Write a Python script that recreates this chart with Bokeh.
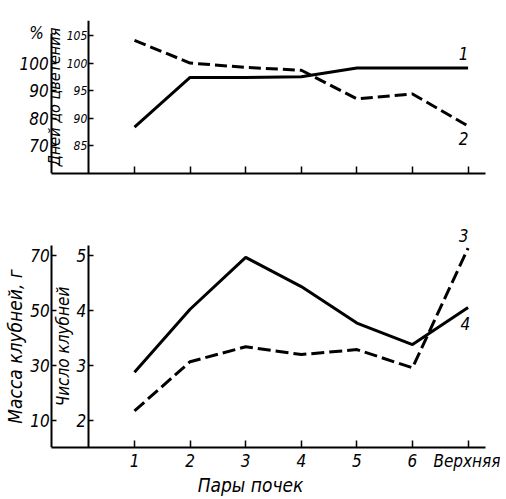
from bokeh.plotting import figure
from bokeh.models import LinearAxis, Range1d, FixedTicker, Label
from bokeh.layouts import column
from bokeh.embed import file_html
from bokeh.resources import INLINE

# ---- data ----
pairs = [1, 2, 3, 4, 5, 6, 7]
pair_labels = ["1", "2", "3", "4", "5", "6", "Верхняя"]
pct_line1 = [76.8, 94.8, 94.8, 95.0, 98.2, 98.2, 98.2]        # curve 1, %
days_line2 = [104.1, 100.0, 99.2, 98.7, 93.5, 94.4, 88.6]     # curve 2, days to flowering
mass_line3 = [13.6, 31.4, 36.8, 34.0, 35.8, 29.2, 72.5]       # curve 3, tuber mass, g
count_line4 = [2.88, 4.02, 4.96, 4.43, 3.77, 3.38, 4.05]      # curve 4, number of tubers

pct_ticks = [70, 80, 90, 100]
day_ticks = [85, 90, 95, 100, 105]
mass_ticks = [10, 30, 50, 70]
count_ticks = [2, 3, 4, 5]

FONT = "DejaVu Sans Condensed"
FS = "17px"
X_RANGE = (-1.410, 7.583)
OUTER_X = -0.49
INNER_X = 0.17


def style_x(ax, labels):
    ax.ticker = FixedTicker(ticks=pairs)
    ax.major_label_overrides = {p: l for p, l in zip(pairs, labels)}
    ax.bounds = (OUTER_X, 7.31)
    ax.axis_line_width = 2
    ax.major_tick_in = 7
    ax.major_tick_out = 0
    ax.major_tick_line_width = 1.5
    ax.minor_tick_line_color = None
    ax.major_label_text_font = FONT
    ax.major_label_text_font_style = "italic"
    ax.major_label_text_font_size = FS
    ax.major_label_text_color = "black"
    ax.axis_label_text_font = FONT
    ax.axis_label_text_font_style = "italic"
    ax.axis_label_text_font_size = "19px"
    ax.axis_label_text_color = "black"
    ax.major_label_standoff = 3
    ax.axis_label_standoff = 0


def make_y(range_name, loc, ticks, label, bounds=None, fs=FS, lfs=FS,
           standoff=2, label_standoff=1):
    ax = LinearAxis(y_range_name=range_name, fixed_location=loc,
                    ticker=FixedTicker(ticks=ticks))
    if label:
        ax.axis_label = label
    if bounds:
        ax.bounds = bounds
    ax.axis_line_width = 2
    ax.major_tick_in = 5
    ax.major_tick_out = 0
    ax.major_tick_line_width = 1.5
    ax.minor_tick_line_color = None
    ax.major_label_text_font = FONT
    ax.major_label_text_font_style = "italic"
    ax.major_label_text_font_size = fs
    ax.major_label_text_color = "black"
    ax.major_label_standoff = standoff
    ax.axis_label_text_font = FONT
    ax.axis_label_text_font_style = "italic"
    ax.axis_label_text_font_size = lfs
    ax.axis_label_text_color = "black"
    ax.axis_label_standoff = label_standoff
    return ax


def label(p, x, y, text, rng="default"):
    p.add_layout(Label(x=x, y=y, text=text, y_range_name=rng,
                       text_font=FONT, text_font_style="italic",
                       text_font_size=FS, text_color="black",
                       text_align="center", text_baseline="middle"))


# ---- top panel ----
top = figure(width=500, height=200, x_range=Range1d(*X_RANGE),
             y_range=Range1d(80.0, 107.7), y_axis_location=None,
             toolbar_location=None, output_backend="svg",
             min_border_left=0, min_border_right=0,
             min_border_top=20, min_border_bottom=27)
top.extra_y_ranges = {"pct": Range1d(60.0, 115.4)}
top.outline_line_color = None
top.xgrid.visible = False
top.ygrid.visible = False
style_x(top.xaxis[0], [""] * 7)

top.add_layout(make_y("default", INNER_X, day_ticks, "Дней до цветения",
                      fs="12px", lfs="16px", standoff=1, label_standoff=0), "left")
top.add_layout(make_y("pct", OUTER_X, pct_ticks, None, bounds=(60, 110.7),
                      standoff=3), "left")

top.line(pairs, pct_line1, y_range_name="pct", line_width=3, line_color="black")
top.line(pairs, days_line2, line_width=3, line_color="black", line_dash="12 5")
label(top, -0.76, 105.5, "%")
label(top, 6.92, 101.8, "1")
label(top, 6.92, 86.3, "2")

# ---- bottom panel ----
bot = figure(width=500, height=298, x_range=Range1d(*X_RANGE),
             y_range=Range1d(1.518, 5.536), y_axis_location=None,
             toolbar_location=None, output_backend="svg",
             min_border_left=0, min_border_right=0,
             min_border_top=25, min_border_bottom=48)
bot.extra_y_ranges = {"mass": Range1d(0.36, 80.7)}
bot.outline_line_color = None
bot.xgrid.visible = False
bot.ygrid.visible = False
style_x(bot.xaxis[0], pair_labels)
bot.xaxis[0].axis_label = "Пары почек"

bot.add_layout(make_y("default", INNER_X, count_ticks, "Число клубней",
                      bounds=(1.518, 5.18)), "left")
bot.add_layout(make_y("mass", OUTER_X, mass_ticks, "Масса клубней, г",
                      bounds=(0.36, 73.6), lfs="19px"), "left")

bot.line(pairs, count_line4, line_width=3, line_color="black")
bot.line(pairs, mass_line3, y_range_name="mass", line_width=3,
         line_color="black", line_dash="13 5")
label(bot, 6.92, 5.35, "3")
label(bot, 6.95, 3.77, "4")

layout = column(top, bot, spacing=0)
open("out.html", "w").write(file_html(layout, INLINE))
